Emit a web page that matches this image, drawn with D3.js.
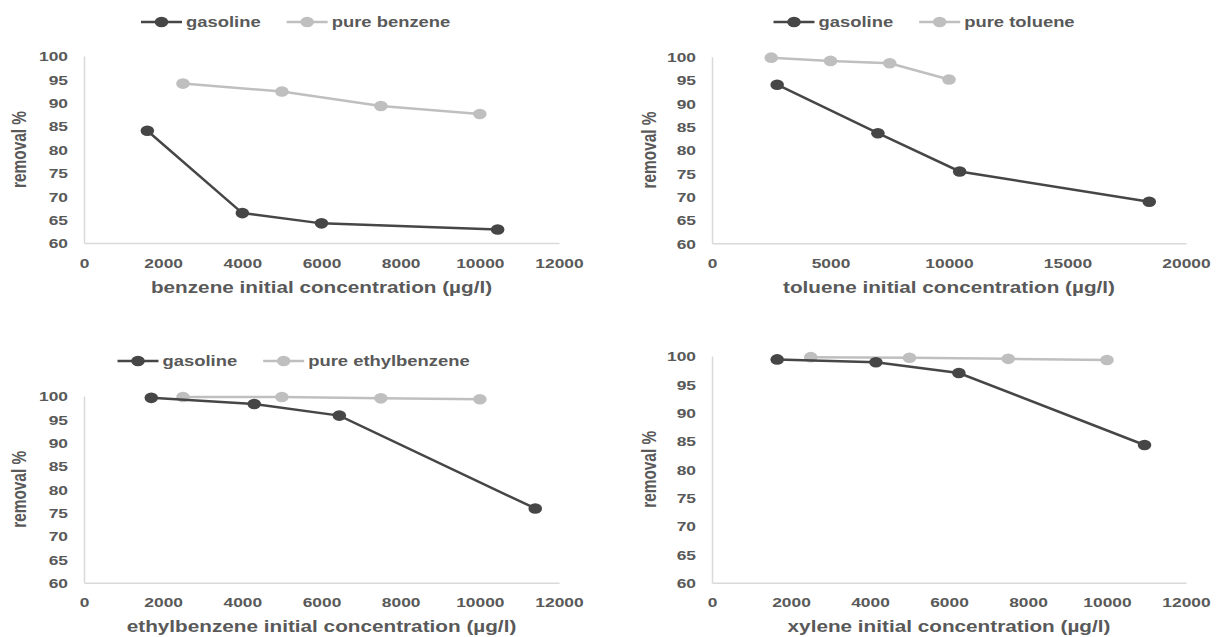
<!DOCTYPE html>
<html>
<head>
<meta charset="utf-8">
<script src="https://cdn.jsdelivr.net/npm/d3@7"></script>
<style>
body { margin:0; background:#ffffff; }
text { font-family: "Liberation Sans", Arial, sans-serif; font-weight: bold; fill:#595959; }
</style>
</head>
<body>
<svg id="chart"></svg>
<script>
// data
var yTicks = [60,65,70,75,80,85,90,95,100];
var xTicksSmall = [0,2000,4000,6000,8000,10000,12000];
var xTicksTol = [0,5000,10000,15000,20000];

var benzeneGasX = [1600, 4000, 6000, 10450];
var benzeneGasY = [84.0, 66.4, 64.2, 62.9];
var benzenePureX = [2500, 5000, 7500, 10000];
var benzenePureY = [94.1, 92.4, 89.3, 87.6];

var tolueneGasX = [2750, 7000, 10450, 18450];
var tolueneGasY = [94.0, 83.6, 75.4, 68.9];
var toluenePureX = [2500, 5000, 7500, 10000];
var toluenePureY = [99.8, 99.1, 98.6, 95.1];

var ethylGasX = [1700, 4300, 6450, 11400];
var ethylGasY = [99.6, 98.3, 95.8, 75.9];
var ethylPureX = [2500, 5000, 7500, 10000];
var ethylPureY = [99.8, 99.8, 99.5, 99.3];

var xyleneGasX = [1650, 4150, 6250, 10950];
var xyleneGasY = [99.4, 98.9, 97.0, 84.3];
var xylenePureX = [2500, 5000, 7500, 10000];
var xylenePureY = [99.8, 99.7, 99.5, 99.3];

var dark = "#464646";
var light = "#bfbfbf";
var stretch = 1.28;   // the whole picture is pulled wider than it is tall

var svg = d3.select("#chart")
    .attr("width",1224)
    .attr("height",637)

var zip = function(xs, ys)
{
    return xs.map(function(x,i){return {x:x, y:ys[i]}});
}

var panels = [
    {left:84, right:559, top:56, bottom:243, xMax:12000, xTicks:xTicksSmall,
     title:"benzene initial concentration (µg/l)", yTitleX:19.5,
     gas:zip(benzeneGasX,benzeneGasY), pure:zip(benzenePureX,benzenePureY),
     legend:{x:141, y:22, pure:"pure benzene"}},
    {left:712, right:1186, top:56.7, bottom:243.3, xMax:20000, xTicks:xTicksTol,
     title:"toluene initial concentration (µg/l)", yTitleX:649,
     gas:zip(tolueneGasX,tolueneGasY), pure:zip(toluenePureX,toluenePureY),
     legend:{x:773.5, y:22, pure:"pure toluene"}},
    {left:84, right:559, top:396, bottom:582.7, xMax:12000, xTicks:xTicksSmall,
     title:"ethylbenzene initial concentration (µg/l)", yTitleX:19.5,
     gas:zip(ethylGasX,ethylGasY), pure:zip(ethylPureX,ethylPureY),
     legend:{x:117.5, y:361, pure:"pure ethylbenzene"}},
    {left:712, right:1186, top:356, bottom:582.7, xMax:12000, xTicks:xTicksSmall,
     title:"xylene initial concentration (µg/l)", yTitleX:649,
     gas:zip(xyleneGasX,xyleneGasY), pure:zip(xylenePureX,xylenePureY),
     legend:null}
];

var drawMarker = function(g, cx, cy, color)
{
    g.append("ellipse")
        .attr("cx",cx).attr("cy",cy)
        .attr("rx",5.3*stretch).attr("ry",5.3)
        .attr("fill",color);
}

var drawPanel = function(p)
{
    var xScale = d3.scaleLinear()
        .domain([0,p.xMax])
        .range([p.left,p.right]);
    var yScale = d3.scaleLinear()
        .domain([60,100])
        .range([p.bottom,p.top]);

    var g = svg.append("g").classed("panel",true);

    // axes, no tick marks like excel
    var xAxis = d3.axisBottom(xScale).tickValues(p.xTicks).tickFormat(d3.format("d")).tickSize(0).tickSizeOuter(0);
    var yAxis = d3.axisLeft(yScale).tickValues(yTicks).tickFormat(d3.format("d")).tickSize(0).tickSizeOuter(0);

    var xg = g.append("g")
        .attr("transform","translate(0,"+p.bottom+")")
        .call(xAxis)
        .attr("font-family",null).attr("font-size",null);
    xg.select(".domain").attr("stroke","#d9d9d9").attr("stroke-width",1.5);
    xg.selectAll("text")
        .attr("x",0).attr("y",20).attr("dy","0.35em")
        .attr("transform","scale("+stretch+",1)")
        .style("font-size","13.6px");

    var yg = g.append("g")
        .attr("transform","translate("+p.left+",0)")
        .call(yAxis)
        .attr("font-family",null).attr("font-size",null);
    yg.select(".domain").attr("stroke","#d9d9d9").attr("stroke-width",1.5);
    yg.selectAll("text")
        .attr("x",-16/stretch).attr("dy","0.35em")
        .attr("transform","scale("+stretch+",1)")
        .style("font-size","13.6px");

    // titles
    g.append("text")
        .text(p.title)
        .attr("text-anchor","middle")
        .attr("transform","translate("+((p.left+p.right)/2)+","+(p.bottom+44)+") scale("+stretch+",1)")
        .attr("dy","0.35em")
        .style("font-size","16.2px");

    g.append("text")
        .text("removal %")
        .attr("text-anchor","middle")
        .attr("transform","translate("+p.yTitleX+","+((p.top+p.bottom)/2)+") rotate(-90) scale(1,"+stretch+")")
        .attr("dy","0.35em")
        .style("font-size","15.4px");

    // lines
    var line = d3.line()
        .x(function(d){return xScale(d.x)})
        .y(function(d){return yScale(d.y)});

    [{data:p.pure, color:light}, {data:p.gas, color:dark}].forEach(function(s)
    {
        g.append("path")
            .datum(s.data)
            .attr("d",line)
            .attr("fill","none")
            .attr("stroke",s.color)
            .attr("stroke-width",2.5);
        s.data.forEach(function(d)
        {
            drawMarker(g, xScale(d.x), yScale(d.y), s.color);
        });
    });

    if(p.legend) drawLegend(g, p.legend);
}

var drawLegend = function(g, lg)
{
    var items = [{name:"gasoline", color:dark}, {name:lg.pure, color:light}];
    var x = lg.x;
    items.forEach(function(item)
    {
        g.append("line")
            .attr("x1",x).attr("x2",x+41)
            .attr("y1",lg.y).attr("y2",lg.y)
            .attr("stroke",item.color)
            .attr("stroke-width",2.5);
        drawMarker(g, x+20.5, lg.y, item.color);
        var t = g.append("text")
            .text(item.name)
            .attr("transform","translate("+(x+45)+","+lg.y+") scale("+stretch+",1)")
            .attr("dy","0.35em")
            .style("font-size","14.4px");
        x = x + 45 + t.node().getComputedTextLength()*stretch + 26;
    });
}

panels.forEach(drawPanel);
</script>
</body>
</html>
